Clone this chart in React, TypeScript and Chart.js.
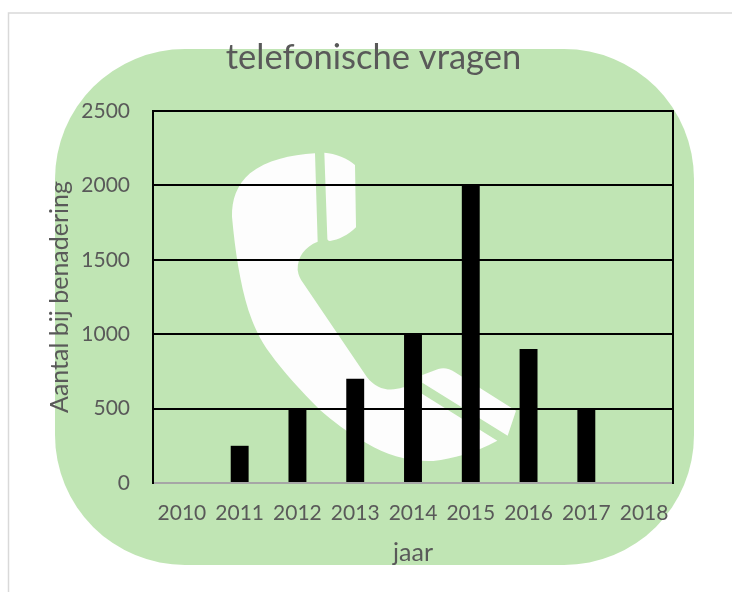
import React, { useEffect, useRef } from "react";
import { Chart, registerables } from "chart.js";

Chart.register(...registerables);

const years = ["2010", "2011", "2012", "2013", "2014", "2015", "2016", "2017", "2018"];
const counts = [0, 250, 500, 700, 1000, 2000, 900, 500, 0];
const chartTitle = "telefonische vragen";
const xTitle = "jaar";
const yTitle = "Aantal bij benadering";
const FONT = "Lato, Carlito, sans-serif";
const TEXT = "#595959";

function poly(ctx: CanvasRenderingContext2D, build: (p: Path2D) => void) {
  const p = new Path2D();
  build(p);
  ctx.fill(p);
}

const backdrop = {
  id: "backdrop",
  beforeDraw(chart: any) {
    const ctx: CanvasRenderingContext2D = chart.ctx;
    ctx.save();
    ctx.fillStyle = "#ffffff";
    ctx.fillRect(0, 0, 732, 592);
    ctx.strokeStyle = "#d9d9d9";
    ctx.lineWidth = 1.5;
    ctx.strokeRect(8.5, 13, 740, 600);
    ctx.fillStyle = "#c0e5b4";
    ctx.beginPath();
    ctx.roundRect(55, 49, 639, 516, 130);
    ctx.fill();
    ctx.fillStyle = "#fdfdfd";
    ctx.translate(220, 140);
    ctx.scale(1 / 3, 1 / 3);
    poly(ctx, (p) => {
      p.moveTo(285, 40);
      p.lineTo(293, 305);
      p.bezierCurveTo(255, 320, 232, 350, 233, 390);
      p.quadraticCurveTo(236, 412, 250, 430);
      p.lineTo(440, 710);
      p.bezierCurveTo(470, 750, 510, 755, 550, 742);
      p.lineTo(607, 762);
      p.lineTo(832, 902);
      p.bezierCurveTo(760, 940, 700, 955, 640, 963);
      p.bezierCurveTo(560, 965, 500, 945, 440, 910);
      p.bezierCurveTo(380, 875, 340, 845, 300, 810);
      p.bezierCurveTo(240, 750, 190, 695, 150, 640);
      p.bezierCurveTo(120, 600, 100, 555, 85, 510);
      p.bezierCurveTo(60, 430, 45, 330, 36, 230);
      p.bezierCurveTo(35, 180, 50, 135, 90, 100);
      p.bezierCurveTo(140, 60, 210, 45, 285, 40);
      p.closePath();
    });
    poly(ctx, (p) => {
      p.moveTo(313, 38);
      p.bezierCurveTo(345, 40, 385, 55, 405, 75);
      p.lineTo(408, 262);
      p.bezierCurveTo(385, 285, 355, 300, 330, 303);
      p.quadraticCurveTo(322, 303, 322, 295);
      p.closePath();
    });
    poly(ctx, (p) => {
      p.moveTo(607, 705);
      p.lineTo(655, 687);
      p.quadraticCurveTo(680, 680, 705, 697);
      p.lineTo(888, 812);
      p.lineTo(863, 887);
      p.lineTo(607, 728);
      p.closePath();
    });
    ctx.restore();
  },
};

export default function App() {
  const ref = useRef<HTMLCanvasElement>(null);
  useEffect(() => {
    const chart = new Chart(ref.current!, {
      type: "bar",
      data: {
        labels: years,
        datasets: [
          { data: counts, backgroundColor: "#000000", barPercentage: 0.31, categoryPercentage: 1, yAxisID: "y" },
        ],
      },
      plugins: [backdrop],
      options: {
        responsive: false,
        animation: false,
        layout: { padding: { left: 45, right: 30, top: 0, bottom: 24 } },
        plugins: {
          legend: { display: false },
          tooltip: { enabled: false },
          title: {
            display: true,
            text: chartTitle,
            color: TEXT,
            font: { family: FONT, size: 34.5, weight: "normal" },
            padding: { top: 37, bottom: 32.6 },
          },
        },
        scales: {
          x: {
            offset: true,
            grid: { display: false },
            border: { display: true, color: "#a6a6a6", width: 2 },
            ticks: { color: TEXT, font: { family: FONT, size: 21 }, padding: 10, maxRotation: 0, autoSkip: false },
            title: { display: true, text: xTitle, color: TEXT, font: { family: FONT, size: 25 }, padding: 0 },
            afterFit: (s: any) => { s.height = 85; },
          },
          y: {
            min: 0,
            max: 2500,
            grid: { color: (c: any) => (c.tick && c.tick.value === 0 ? "rgba(0,0,0,0)" : "#000000"), lineWidth: 2, drawTicks: false },
            border: { display: true, color: "#000000", width: 2 },
            ticks: { stepSize: 500, color: TEXT, font: { family: FONT, size: 21 }, padding: 23, callback: (v: any) => String(v) },
            title: { display: true, text: yTitle, color: TEXT, font: { family: FONT, size: 25 }, padding: 0 },
            afterFit: (s: any) => { s.width = 108; },
          },
          yRight: {
            position: "right",
            min: 0,
            max: 2500,
            grid: { display: false, drawTicks: false },
            border: { display: true, color: "#000000", width: 2 },
            ticks: { display: false },
            afterFit: (s: any) => { s.width = 29; },
          },
        },
      },
    } as any);
    return () => chart.destroy();
  }, []);
  return (
    <div style={{ position: "absolute", left: 0, top: 0, width: 732, height: 592, overflow: "hidden" }}>
      <canvas ref={ref} width={732} height={592} style={{ display: "block" }} />
    </div>
  );
}
